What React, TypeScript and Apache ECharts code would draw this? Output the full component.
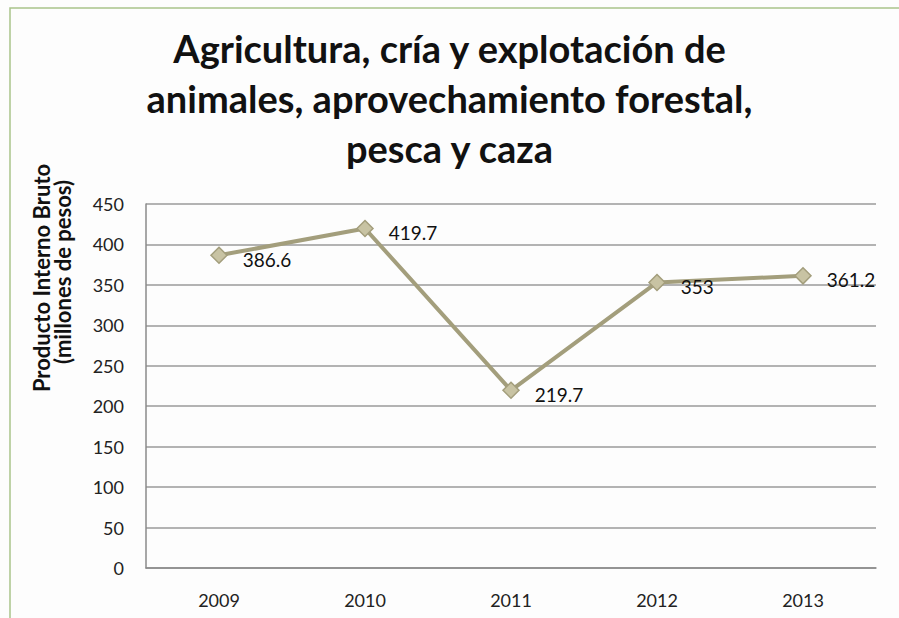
import React, { useEffect, useRef } from "react";
import * as echarts from "echarts";

const years = ["2009", "2010", "2011", "2012", "2013"];
const pib = [386.6, 419.7, 219.7, 353, 361.2];
const titleLines = [
  "Agricultura, cría y explotación de",
  "animales, aprovechamiento forestal,",
  "pesca y caza",
];
const yAxisNameLines = ["Producto Interno Bruto", "(millones de pesos)"];

const FONT = "Lato, 'Open Sans', sans-serif";

export default function App() {
  const ref = useRef<HTMLDivElement>(null);
  useEffect(() => {
    if (!ref.current) return;
    const chart = echarts.init(ref.current, undefined, { renderer: "svg" });
    chart.setOption({
      animation: false,
      backgroundColor: "#fdfdfd",
      title: {
        text: titleLines.join("\n"),
        left: "center",
        top: 18,
        textStyle: {
          fontFamily: FONT,
          fontSize: 38,
          fontWeight: "bold",
          color: "#111",
          lineHeight: 50,
        },
      },
      graphic: [
        {
          type: "rect",
          shape: { x: 10, y: 8, width: 1000, height: 1000 },
          style: { fill: "none", stroke: "#a9c48a", lineWidth: 1.5 },
          silent: true,
        },
        ...yAxisNameLines.map((t, i) => ({
          type: "text",
          x: 41 + i * 21,
          y: i === 0 ? 278 : 272,
          rotation: Math.PI / 2,
          style: {
            text: t,
            fontFamily: FONT,
            fontSize: 22,
            fontWeight: "bold",
            fill: "#111",
            align: "center",
            verticalAlign: "middle",
          },
          silent: true,
        })),
      ],
      grid: { left: 146, right: 23, top: 204, bottom: 50 },
      xAxis: {
        type: "category",
        data: years,
        boundaryGap: true,
        axisLine: { lineStyle: { color: "#8a8a8a", width: 1.5 } },
        axisTick: { show: false },
        axisLabel: { fontFamily: FONT, fontSize: 18, color: "#222", margin: 23 },
      },
      yAxis: {
        type: "value",
        min: 0,
        max: 450,
        interval: 50,
        axisLine: { show: true, lineStyle: { color: "#8a8a8a", width: 1.5 } },
        axisTick: { show: false },
        axisLabel: { fontFamily: FONT, fontSize: 18, color: "#222", margin: 22 },
        splitLine: { lineStyle: { color: "#9a9a9a", width: 1.5 } },
      },
      series: [
        {
          type: "line",
          data: pib,
          symbol: "diamond",
          symbolSize: 16,
          lineStyle: { color: "#a39e7c", width: 4 },
          itemStyle: { color: "#c8c3a3", borderColor: "#a39e7c", borderWidth: 1.5 },
          label: {
            show: true,
            position: "right",
            distance: 15,
            offset: [0, 4],
            fontFamily: FONT,
            fontSize: 19,
            color: "#111",
          },
        },
      ],
    });
    return () => chart.dispose();
  }, []);
  return (
    <div
      ref={ref}
      style={{ position: "fixed", left: 0, top: 0, width: 899, height: 618 }}
    />
  );
}
